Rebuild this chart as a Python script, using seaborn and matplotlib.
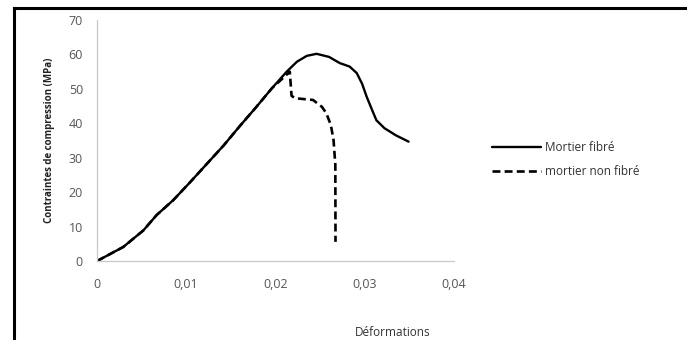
import pandas as pd
import matplotlib.pyplot as plt
import seaborn as sns
from matplotlib.lines import Line2D

# strain / stress values
fibre_strain = [0, 0.00295, 0.0052, 0.0067, 0.00855, 0.0104, 0.0123, 0.0142, 0.016,
                0.0178, 0.0196, 0.02125, 0.0224, 0.0235, 0.0246, 0.026, 0.0272, 0.0283,
                0.0291, 0.0297, 0.0302, 0.0308, 0.0313, 0.0322, 0.0335, 0.0349]
fibre_stress = [0, 4.1, 8.9, 13.4, 17.7, 22.8, 28.2, 33.6, 39.2,
                44.6, 50.2, 55, 57.9, 59.6, 60.2, 59.3, 57.5, 56.5,
                54.6, 51.5, 47.8, 44, 40.9, 38.6, 36.5, 34.7]

plain_strain = [0, 0.00295, 0.0052, 0.0067, 0.00855, 0.0104, 0.0123, 0.0142, 0.016,
                0.0178, 0.0196, 0.0216, 0.0218, 0.0222, 0.0242, 0.0252, 0.0257, 0.0262,
                0.0265, 0.0267, 0.02672]
plain_stress = [0, 4.1, 8.9, 13.4, 17.7, 22.8, 28.2, 33.6, 39.2,
                44.6, 50.2, 55, 48, 47.3, 46.8, 44.8, 42.9, 39.5,
                35.2, 28, 5.6]

x_ticks = [0, 0.01, 0.02, 0.03, 0.04]
x_labels = ["0", "0,01", "0,02", "0,03", "0,04"]
y_ticks = [0, 10, 20, 30, 40, 50, 60, 70]

fibre = pd.DataFrame({"strain": fibre_strain, "stress": fibre_stress})
plain = pd.DataFrame({"strain": plain_strain, "stress": plain_stress})

sns.set_style("white")
plt.rcParams['font.family'] = ['Open Sans', 'DejaVu Sans']

fig = plt.figure(figsize=(6.87, 3.4), dpi=100)
ax = fig.add_axes([0.141, 0.232, 0.52, 0.709])

sns.lineplot(data=fibre, x="strain", y="stress", sort=False, estimator=None,
             color="black", linewidth=1.7, ax=ax, label="Mortier fibré")
sns.lineplot(data=plain, x="strain", y="stress", sort=False, estimator=None,
             color="black", linewidth=1.9, ax=ax, label="mortier non fibré")
ax.lines[1].set_dashes([3, 1.6])
for ln in ax.lines:
    ln.set_solid_joinstyle("round")
    ln.set_dash_joinstyle("round")

ax.set_xlim(0, 0.04)
ax.set_ylim(0, 70)
ax.set_xticks(x_ticks)
ax.set_xticklabels(x_labels)
ax.set_yticks(y_ticks)
ax.tick_params(axis='both', colors="#555555", labelsize=9, length=4, width=0.8,
               direction='out', pad=8)
ax.tick_params(axis='y', pad=6)
for side in ["top", "right"]:
    ax.spines[side].set_visible(False)
for side in ["left", "bottom"]:
    ax.spines[side].set_color("#c8c8c8")
    ax.spines[side].set_linewidth(0.9)

ax.set_xlabel("")
ax.set_ylabel("Contraintes de compression (MPa)", fontsize=7, fontweight='bold',
              color="#222222", labelpad=10)

handles, labels = ax.get_legend_handles_labels()
ax.get_legend().remove()
fig.legend(handles, labels, loc="center left", bbox_to_anchor=(0.70, 0.53),
           frameon=False, fontsize=8.5, handlelength=4.2, handletextpad=0.3,
           labelspacing=0.9, labelcolor="#333333")

fig.text(393 / 687, 1 - 332 / 340, "Déformations", ha="center", va="center",
         fontsize=8.5, color="#333333")

# outer black frame, cut by the image edge on right and bottom
fx = 13.5 / 687
fy = 1 - 7.5 / 340
fig.add_artist(Line2D([fx, fx], [0, fy], transform=fig.transFigure,
                      color="black", linewidth=2.2, solid_capstyle="projecting"))
fig.add_artist(Line2D([fx, 1], [fy, fy], transform=fig.transFigure,
                      color="black", linewidth=2.2, solid_capstyle="projecting"))

plt.savefig("out.png", dpi=100)
